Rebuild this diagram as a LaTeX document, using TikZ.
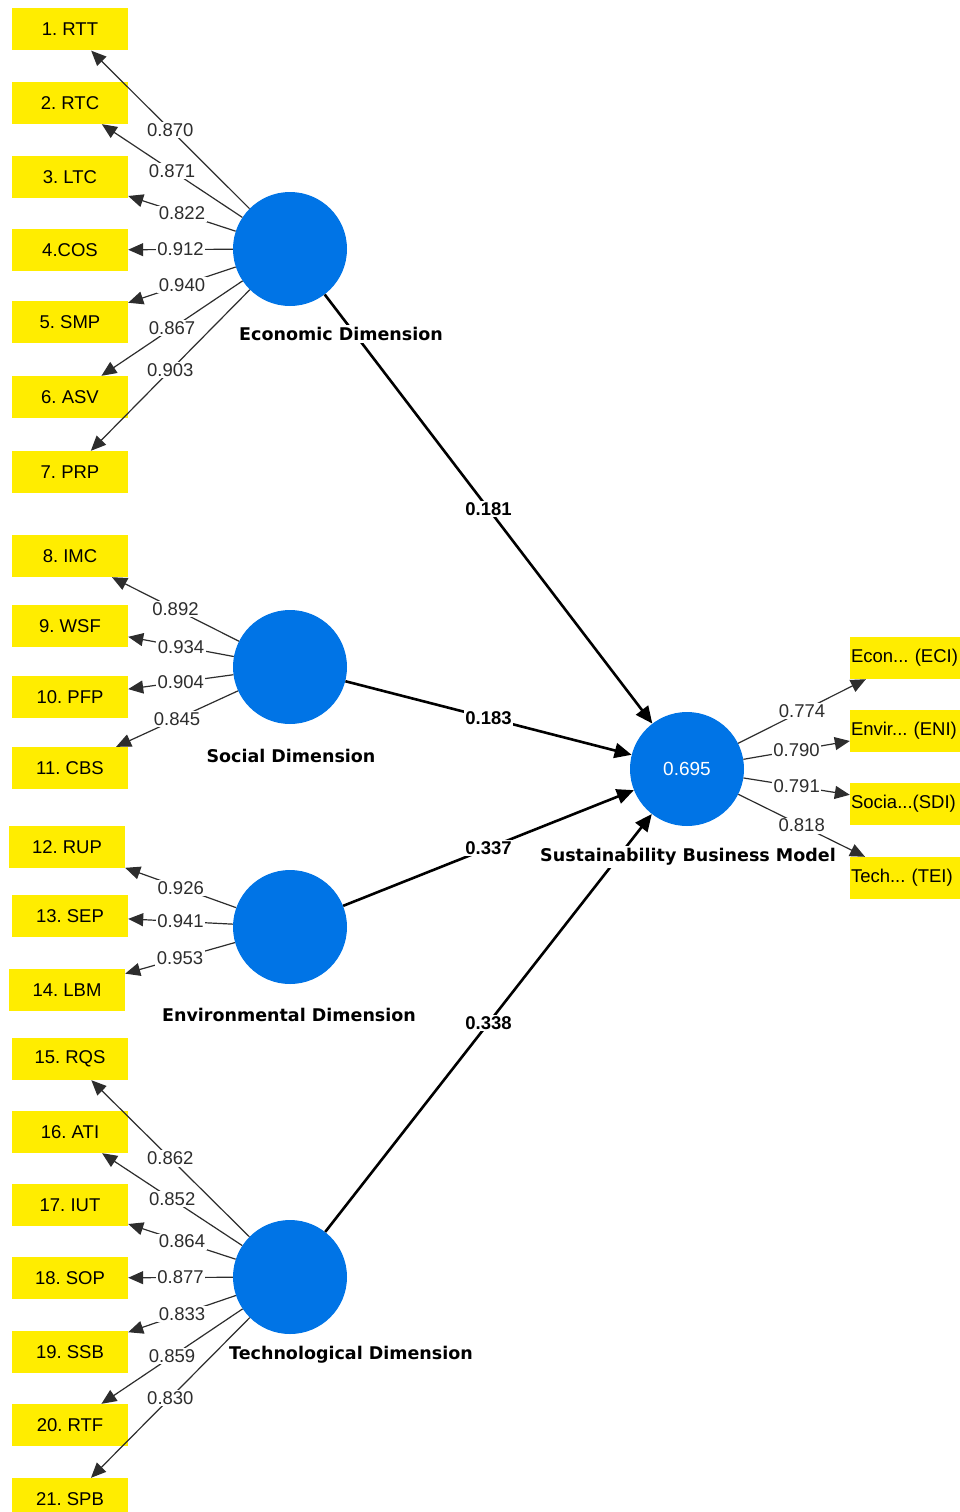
\documentclass[tikz,border=0pt]{standalone}
\usepackage{fontspec}
\setmainfont{Liberation Sans}
\newfontfamily\dimfont{DejaVu Sans}
\usetikzlibrary{arrows.meta,positioning}
\frenchspacing
\definecolor{boxyellow}{RGB}{255,237,0}
\definecolor{latblue}{RGB}{0,116,230}
\definecolor{linegray}{RGB}{45,45,45}
\tikzset{
  indbox/.style={fill=boxyellow, minimum width=116pt, minimum height=42pt, inner sep=0pt,
    font=\fontsize{18.5}{20}\selectfont},
  indboxr/.style={indbox, text width=114pt, inner xsep=1pt, align=left},
  latent/.style={circle, fill=latblue, minimum size=114pt, inner sep=0pt, text=white,
    font=\fontsize{19}{21}\selectfont},
  dimname/.style={fill=white, inner sep=2pt, font=\dimfont\bfseries\fontsize{17.5}{19}\selectfont},
  loading/.style={draw=linegray, line width=1.2pt, -{Triangle[length=15pt,width=13pt]}},
  pathline/.style={draw=black, line width=2.6pt, -{Triangle[length=17pt,width=15pt]}},
  lval/.style={fill=white, inner sep=1.5pt, text=linegray, font=\fontsize{18.5}{20}\selectfont},
  pval/.style={fill=white, inner sep=1.5pt, font=\bfseries\fontsize{18.5}{20}\selectfont}
}
\begin{document}
\begin{tikzpicture}[x=1pt, y=-1pt]
  \clip (0,0) rectangle (960,1512);
  \fill[white] (0,0) rectangle (960,1512);
  % latent variables
  \node[latent] (eco) at (290,249) {};
  \node[latent] (soc) at (290,667) {};
  \node[latent] (env) at (290,927) {};
  \node[latent] (tec) at (290,1277) {};
  \node[latent] (sbm) at (687,769) {0.695};
  % indicators
  \foreach \n/\lab/\x/\y in {1/1. RTT/70/29.5, 2/2. RTC/70/103, 3/3. LTC/70/177, 4/4.COS/70/250,
      5/5. SMP/70/322, 6/6. ASV/70/397, 7/7. PRP/70/472, 8/8. IMC/70/556, 9/9. WSF/70/626,
      10/10. PFP/70/697, 11/11. CBS/70/768, 12/12. RUP/67/847, 13/13. SEP/70/916,
      14/14. LBM/67/990, 15/15. RQS/70/1059, 16/16. ATI/70/1132, 17/17. IUT/70/1205,
      18/18. SOP/70/1278, 19/19. SSB/70/1352, 20/20. RTF/70/1425, 21/21. SPB/70/1499}
    \node[indbox] (i\n) at (\x,\y) {\lab};
  \node[indboxr] (eci) at (908,658) {Econ... (ECI)};
  \node[indboxr] (eni) at (908,731) {Envir... (ENI)};
  \node[indboxr] (sdi) at (908,804) {Socia...(SDI)};
  \node[indboxr] (tei) at (908,878) {Tech... (TEI)};
  % outer loadings
  \foreach \n/\val in {1/0.870, 2/0.871, 3/0.822, 4/0.912, 5/0.940, 6/0.867, 7/0.903}
    \draw[loading] (eco) -- node[lval] {\val} (i\n);
  \foreach \n/\val in {8/0.892, 9/0.934, 10/0.904, 11/0.845}
    \draw[loading] (soc) -- node[lval] {\val} (i\n);
  \foreach \n/\val in {12/0.926, 13/0.941, 14/0.953}
    \draw[loading] (env) -- node[lval] {\val} (i\n);
  \foreach \n/\val in {15/0.862, 16/0.852, 17/0.864, 18/0.877, 19/0.833, 20/0.859, 21/0.830}
    \draw[loading] (tec) -- node[lval] {\val} (i\n);
  \draw[loading] (sbm) -- node[lval] {0.774} (eci);
  \draw[loading] (sbm) -- node[lval] {0.790} (eni);
  \draw[loading] (sbm) -- node[lval] {0.791} (sdi);
  \draw[loading] (sbm) -- node[lval] {0.818} (tei);
  % inner model
  \draw[pathline] (eco) -- node[pval] {0.181} (sbm);
  \draw[pathline] (soc) -- node[pval] {0.183} (sbm);
  \draw[pathline] (env) -- node[pval] {0.337} (sbm);
  \draw[pathline] (tec) -- node[pval] {0.338} (sbm);
  % names
  \node[dimname] (econame) at (341,334) {Economic Dimension};
  \node[dimname] (socname) at (291,756) {Social Dimension};
  \node[dimname] (envname) at (289,1015) {Environmental Dimension};
  \node[dimname] (tecname) at (351,1355) {Technological Dimension};
  \node[dimname] (sbmname) at (688,857) {Sustainability Business Model};
\end{tikzpicture}
\end{document}
